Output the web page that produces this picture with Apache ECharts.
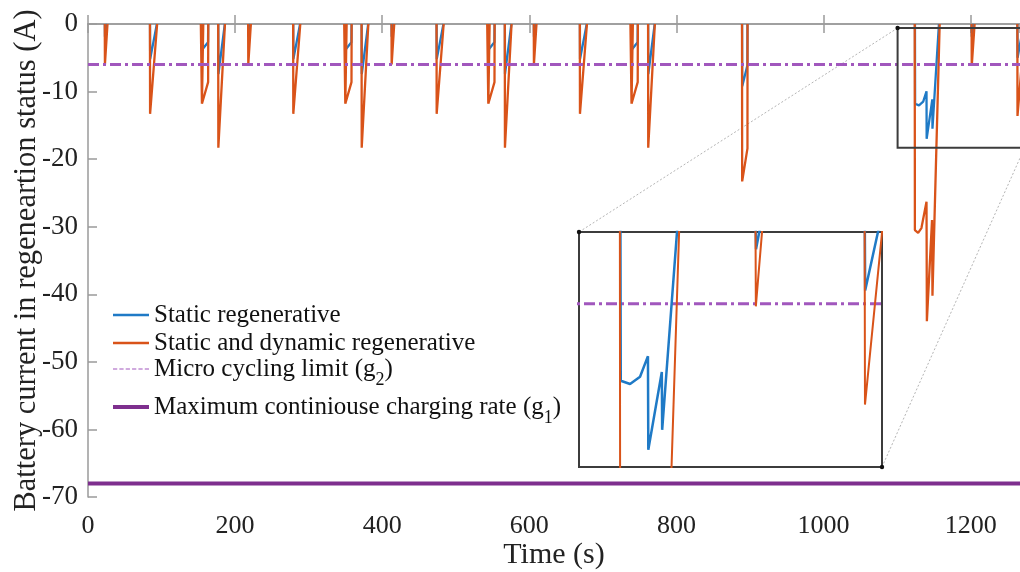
<!DOCTYPE html>
<html><head><meta charset="utf-8">
<script src="https://cdn.jsdelivr.net/npm/echarts@6/dist/echarts.min.js"></script>
<style>html,body{margin:0;padding:0;background:#fff}#c{width:1020px;height:572px}</style>
</head><body><div id="c"></div>
<script>
// ---------------- data ----------------
// Static regenerative (blue): time (s) and current (A); null = gap between events
const staticT = [
  22.9, 23.1, 25.8, null,
  84.3, 84.5, 93.6, null,
  154.9, 155.1, 163.2, 163.4, null,
  177.1, 177.3, 186.0, null,
  217.8, 218.0, 220.7, null,
  279.0, 279.2, 288.3, null,
  349.8, 350.0, 358.1, 358.3, null,
  372.0, 372.2, 380.9, null,
  412.7, 412.9, 415.6, null,
  473.9, 474.1, 483.2, null,
  544.2, 544.4, 552.5, 552.7, null,
  566.7, 566.9, 575.6, null,
  606.1, 606.3, 609.0, null,
  668.7, 668.9, 678.0, null,
  738.9, 739.1, 747.2, 747.4, null,
  761.5, 761.7, 770.4, null,
  889.2, 889.4, 896.4, 896.5, null,
  1124.2, 1124.4, 1129.7, 1135.4, 1139.9, 1140.1, 1147.8, 1148.0, 1156.8, null,
  1201.3, 1201.5, 1204.2, null,
  1263.5, 1263.7, 1272.0
];
const staticI = [
  0, -1.9, 0, null,
  0, -5.2, 0, null,
  0, -3.8, -2.7, 0, null,
  0, -7.4, 0, null,
  0, -1.9, 0, null,
  0, -5.2, 0, null,
  0, -3.8, -2.7, 0, null,
  0, -7.4, 0, null,
  0, -1.9, 0, null,
  0, -5.2, 0, null,
  0, -3.8, -2.7, 0, null,
  0, -7.4, 0, null,
  0, -1.9, 0, null,
  0, -5.2, 0, null,
  0, -3.8, -2.7, 0, null,
  0, -7.4, 0, null,
  0, -9.2, -6.1, 0, null,
  0, -11.8, -12.05, -11.5, -9.95, -17.0, -11.15, -15.5, 0, null,
  0, -1.9, 0, null,
  0, -5.0, 0
];
// Static and dynamic regenerative (orange)
const dynT = [
  22.8, 23.0, 26.5, null,
  84.2, 84.4, 94.0, null,
  153.4, 154.9, 156.7, null, 154.9, 163.3, 163.5, null,
  177.0, 177.2, 186.2, null,
  217.7, 217.9, 221.4, null,
  278.9, 279.1, 288.6, null,
  348.3, 349.8, 351.6, null, 349.8, 358.2, 358.4, null,
  371.9, 372.1, 381.1, null,
  412.6, 412.8, 416.3, null,
  473.8, 474.0, 483.5, null,
  542.7, 544.2, 546.0, null, 544.2, 552.6, 552.8, null,
  566.6, 566.8, 575.8, null,
  606.0, 606.2, 609.7, null,
  668.6, 668.8, 678.3, null,
  737.4, 738.9, 740.7, null, 738.9, 747.3, 747.5, null,
  761.4, 761.6, 770.6, null,
  889.1, 889.3, 896.5, 896.6, null,
  1123.9, 1124.1, 1128.5, 1133.0, 1139.9, 1140.4, 1147.4, 1148.0, 1157.8, null,
  1201.2, 1201.4, 1205.3, null,
  1263.4, 1263.6, 1273.8
];
const dynI = [
  0, -6.0, 0, null,
  0, -13.3, 0, null,
  0, -11.8, 0, null, -11.8, -8.6, 0, null,
  0, -18.3, 0, null,
  0, -6.0, 0, null,
  0, -13.3, 0, null,
  0, -11.8, 0, null, -11.8, -8.6, 0, null,
  0, -18.3, 0, null,
  0, -6.0, 0, null,
  0, -13.3, 0, null,
  0, -11.8, 0, null, -11.8, -8.6, 0, null,
  0, -18.3, 0, null,
  0, -6.0, 0, null,
  0, -13.3, 0, null,
  0, -11.8, 0, null, -11.8, -8.6, 0, null,
  0, -18.3, 0, null,
  0, -23.3, -18.4, 0, null,
  0, -30.5, -30.9, -30.2, -26.3, -44.0, -29.0, -40.2, 0, null,
  0, -6.2, 0, null,
  0, -13.6, 0
];
const microLimit = -6;      // g2
const maxChargeRate = -68;  // g1
const limitT = [0, 1300];
const xRange = [0, 1267];
const yRange = [-70, 0];
const zoomT = [1100.6, 1273.3];   // magnified window (time)
const zoomI = [-18.3, -0.6];      // magnified window (current)

const names = ['Static regenerative', 'Static and dynamic regenerative',
  'Micro cycling limit (g2)', 'Maximum continiouse charging rate (g1)'];

// ---------------- build ----------------
const pairs = (T, V) => T.map((t, i) => (t === null ? '-' : [t, V[i]]));
const dataStatic = pairs(staticT, staticI);
const dataDyn = pairs(dynT, dynI);
const dataMicro = limitT.map(t => [t, microLimit]);
const dataMax = limitT.map(t => [t, maxChargeRate]);

const FONT = "'Liberation Serif','Times New Roman','DejaVu Serif',serif";
const BLUE = '#1f7ac6', ORANGE = '#d95319', PURPLE_L = '#a157bd', PURPLE = '#7e2f8e', AX = '#9a9a9a';

const chart = echarts.init(document.getElementById('c'), null, {renderer: 'canvas'});

const DASH_ICON = 'path://M0,0h4v1h-4z M6,0h4v1h-4z M12,0h4v1h-4z M18,0h4v1h-4z M24,0h4v1h-4z M30,0h4v1h-4z';
function legendFor(name, top, icon, h) {
  return {
    data: [{name: name, icon: icon}], left: 113, top: top, orient: 'vertical',
    itemWidth: 36, itemHeight: h, itemGap: 0, padding: 0,
    selectedMode: false,
    textStyle: {fontFamily: FONT, fontSize: 25, color: '#111', lineHeight: 28,
      rich: {sub: {fontFamily: FONT, fontSize: 18, color: '#111', padding: [22, 0, 0, 0]}}},
    formatter: n => n.replace(/\((g)(\d)\)/, '($1{sub|$2})')
  };
}

const option = {
  animation: false,
  backgroundColor: '#fff',
  grid: [
    {left: 88, top: 24, right: 0, height: 473, containLabel: false, outerBoundsMode: 'none'},
    {left: 579, top: 232, width: 303, height: 235, show: true, backgroundColor: '#fff', borderColor: '#3c3c3c', borderWidth: 2, z: 5,
      containLabel: false, outerBoundsMode: 'none'}
  ],
  xAxis: [
    {gridIndex: 0, type: 'value', min: xRange[0], max: xRange[1], interval: 200, position: 'bottom',
      name: 'Time (s)', nameLocation: 'middle', nameGap: 43, nameMoveOverlap: false,
      nameTextStyle: {fontFamily: FONT, fontSize: 30, color: '#222'},
      axisLine: {lineStyle: {color: AX, width: 1.5}},
      axisTick: {inside: true, length: 9, lineStyle: {color: AX, width: 1.5}},
      axisLabel: {fontFamily: FONT, fontSize: 26, color: '#222', margin: 16, showMaxLabel: false, formatter: v => String(v)},
      splitLine: {show: false}},
    {gridIndex: 0, type: 'value', min: xRange[0], max: xRange[1], interval: 200, position: 'top',
      axisLine: {lineStyle: {color: AX, width: 1.5}},
      axisTick: {inside: true, length: 9, lineStyle: {color: AX, width: 1.5}},
      axisLabel: {show: false}, splitLine: {show: false}},
    {gridIndex: 1, type: 'value', min: zoomT[0], max: zoomT[1], show: false, splitLine: {show: false}}
  ],
  yAxis: [
    {gridIndex: 0, type: 'value', min: yRange[0], max: yRange[1], interval: 10,
      name: 'Battery current in regeneartion status (A)', nameLocation: 'middle', nameGap: 46, nameMoveOverlap: false,
      nameTextStyle: {fontFamily: FONT, fontSize: 30.5, color: '#222'},
      axisLine: {show: true, lineStyle: {color: AX, width: 1.5}},
      axisTick: {show: true, inside: true, length: 9, lineStyle: {color: AX, width: 1.5}},
      axisLabel: {fontFamily: FONT, fontSize: 27, color: '#222', margin: 10},
      splitLine: {show: false}},
    {gridIndex: 1, type: 'value', min: zoomI[0], max: zoomI[1], show: false, splitLine: {show: false}}
  ],
  legend: [
    legendFor(names[0], 301, 'rect', 2.5),
    legendFor(names[1], 329, 'rect', 2.5),
    legendFor(names[2], 355, DASH_ICON, 1.6),
    legendFor(names[3], 393, 'rect', 4)
  ],
  series: [
    {name: names[0], type: 'line', xAxisIndex: 0, yAxisIndex: 0, data: dataStatic, symbol: 'none', connectNulls: false,
      lineStyle: {color: BLUE, width: 2.3}, itemStyle: {color: BLUE}, z: 3},
    {name: names[1], type: 'line', xAxisIndex: 0, yAxisIndex: 0, data: dataDyn, symbol: 'none', connectNulls: false,
      lineStyle: {color: ORANGE, width: 2.3}, itemStyle: {color: ORANGE}, z: 4},
    {name: names[2], type: 'line', xAxisIndex: 0, yAxisIndex: 0, data: dataMicro, symbol: 'none',
      lineStyle: {color: PURPLE_L, width: 3, type: [11, 4, 3, 4]}, itemStyle: {color: PURPLE_L}, z: 5},
    {name: names[3], type: 'line', xAxisIndex: 0, yAxisIndex: 0, data: dataMax, symbol: 'none',
      lineStyle: {color: PURPLE, width: 4}, itemStyle: {color: PURPLE}, z: 5},
    // inset (magnified view)
    {name: names[0], type: 'line', xAxisIndex: 2, yAxisIndex: 1, data: dataStatic, symbol: 'none',
      lineStyle: {color: BLUE, width: 2.5}, itemStyle: {color: BLUE}, z: 13},
    {name: names[1], type: 'line', xAxisIndex: 2, yAxisIndex: 1, data: dataDyn, symbol: 'none',
      lineStyle: {color: ORANGE, width: 2}, itemStyle: {color: ORANGE}, z: 14},
    {name: names[2], type: 'line', xAxisIndex: 2, yAxisIndex: 1, data: dataMicro, symbol: 'none',
      lineStyle: {color: PURPLE_L, width: 3, type: [11, 4, 3, 4]}, itemStyle: {color: PURPLE_L}, z: 12}
  ]
};
chart.setOption(option);

// box around the magnified region, connectors and corner dots
const p = (ax, ay, v) => chart.convertToPixel({xAxisIndex: ax, yAxisIndex: ay}, v);
const sTL = p(0, 0, [zoomT[0], zoomI[1]]), sBR = p(0, 0, [zoomT[1], zoomI[0]]);
const iTL = p(2, 1, [zoomT[0], zoomI[1]]), iBR = p(2, 1, [zoomT[1], zoomI[0]]);
const dot = (pt) => ({type: 'circle', shape: {cx: pt[0], cy: pt[1], r: 2.2}, style: {fill: '#111'}, z: 100});
const conn = (a, b) => ({type: 'line', shape: {x1: a[0], y1: a[1], x2: b[0], y2: b[1]},
  style: {stroke: '#b5b5b5', lineWidth: 1, lineDash: [2, 2]}, z: 1});
chart.setOption({graphic: [
  conn(sTL, iTL), conn(iBR, sBR),
  {type: 'rect', shape: {x: sTL[0], y: sTL[1], width: sBR[0] - sTL[0], height: sBR[1] - sTL[1]},
    style: {fill: null, stroke: '#3c3c3c', lineWidth: 2}, z: 90},
  dot(sTL), dot(iTL), dot(iBR)
]});
</script></body></html>
